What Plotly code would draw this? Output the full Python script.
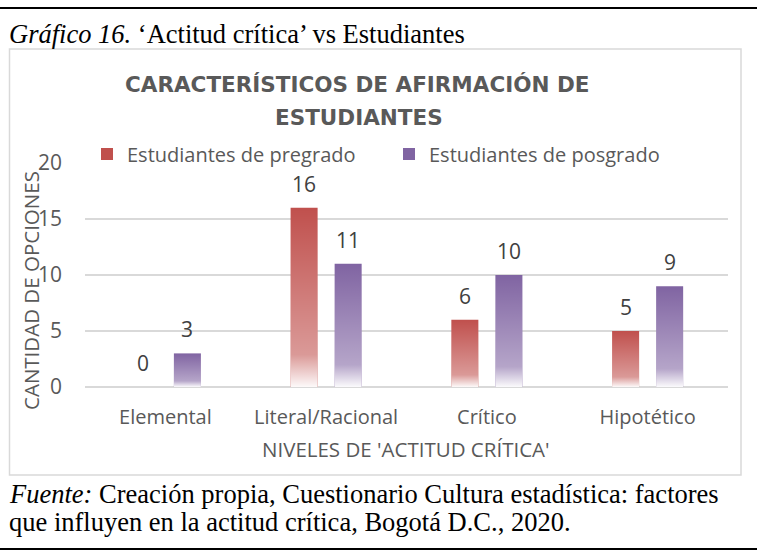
import plotly.graph_objects as go

# ---- data ----
categorias = ["Elemental", "Literal/Racional", "Crítico", "Hipotético"]
pregrado = [0, 16, 6, 5]
posgrado = [3, 11, 10, 9]
series_nombres = ["Estudiantes de pregrado", "Estudiantes de posgrado"]
y_ticks = [0, 5, 10, 15, 20]

# ---- style ----
W, H = 757, 552
L, R, T, B = 85, 728, 163, 387          # plot area in pixels
colores = ["#C0504D", "#8064A2"]
bar_w = 0.168
offsets = [-0.221, 0.053]
txt_gray = "#595959"
lab_gray = "#404040"
sans = "Open Sans"
serif = "Liberation Serif, Times New Roman, serif"


def px(xp):
    return (xp - L) / (R - L)


def py(yp):
    return (B - yp) / (B - T)


xs = list(range(len(categorias)))
fig = go.Figure()

for k, (vals, name) in enumerate(zip([pregrado, posgrado], series_nombres)):
    fig.add_trace(go.Bar(
        x=xs, y=vals, name=name, width=bar_w, offset=offsets[k],
        marker=dict(color=colores[k], line=dict(width=0)),
        hovertext=categorias, hoverinfo="text+y+name",
    ))

# white gradient overlay on each bar (fades to white at the base)
fade = [[0, "rgba(255,255,255,0.97)"], [0.18, "rgba(255,255,255,0.42)"],
        [1, "rgba(255,255,255,0)"]]
for k, vals in enumerate([pregrado, posgrado]):
    for i, v in zip(xs, vals):
        if v <= 0:
            continue
        x0 = i + offsets[k]
        x1 = x0 + bar_w
        fig.add_trace(go.Scatter(
            x=[x0, x0, x1, x1, x0], y=[0, v, v, 0, 0],
            mode="none", fill="toself",
            fillgradient=dict(type="vertical", colorscale=fade, start=0, stop=v),
            showlegend=False, hoverinfo="skip",
        ))

# data labels
for k, vals in enumerate([pregrado, posgrado]):
    for i, v in zip(xs, vals):
        fig.add_annotation(
            x=i + offsets[k] + bar_w / 2, y=v, text=str(v), showarrow=False,
            yshift=24, yanchor="middle", xanchor="center",
            font=dict(family=sans, size=21, color=lab_gray),
        )

shapes = [
    # outer black rules
    dict(type="line", xref="paper", yref="paper", x0=px(0), x1=px(W),
         y0=py(8), y1=py(8), line=dict(color="black", width=2)),
    dict(type="line", xref="paper", yref="paper", x0=px(0), x1=px(W),
         y0=py(549), y1=py(549), line=dict(color="black", width=2)),
    # chart frame
    dict(type="rect", xref="paper", yref="paper", x0=px(9.5), x1=px(741),
         y0=py(49), y1=py(475), line=dict(color="#D9D9D9", width=1.5)),
]

annotations = [
    dict(text="<i>Gráfico 16.</i> ‘Actitud crítica’ vs Estudiantes",
         x=px(7), y=py(34), xanchor="left", yanchor="middle",
         font=dict(family=serif, size=26.5, color="black")),
    dict(text="<b>CARACTERÍSTICOS DE AFIRMACIÓN DE</b>",
         x=px(357), y=py(85), xanchor="center", yanchor="middle",
         font=dict(family="DejaVu Sans", size=21.5, color=txt_gray)),
    dict(text="<b>ESTUDIANTES</b>",
         x=px(359), y=py(117), xanchor="center", yanchor="middle",
         font=dict(family="DejaVu Sans", size=21.5, color=txt_gray)),
    dict(text="CANTIDAD DE OPCIONES", textangle=-90,
         x=px(31), y=py(291), xanchor="center", yanchor="middle",
         font=dict(family=sans, size=20.5, color=txt_gray)),
    dict(text="NIVELES DE 'ACTITUD CRÍTICA'",
         x=px(406), y=py(449), xanchor="center", yanchor="middle",
         font=dict(family=sans, size=20.5, color=txt_gray)),
    dict(text="<i>Fuente:</i> Creación propia, Cuestionario Cultura estadística: factores",
         x=px(7), y=py(494), xanchor="left", yanchor="middle",
         font=dict(family=serif, size=26.5, color="black")),
    dict(text="que influyen en la actitud crítica, Bogotá D.C., 2020.",
         x=px(7), y=py(522), xanchor="left", yanchor="middle",
         font=dict(family=serif, size=26.5, color="black")),
]
for a in annotations:
    a.update(xref="paper", yref="paper", showarrow=False)
    fig.add_annotation(**a)

fig.update_layout(
    width=W, height=H,
    margin=dict(l=L, r=W - R, t=T, b=H - B),
    paper_bgcolor="white", plot_bgcolor="white",
    barmode="overlay",
    shapes=shapes,
    showlegend=True,
    legend=dict(orientation="h", x=px(87), y=py(154), xanchor="left",
                yanchor="middle", font=dict(family=sans, size=20, color=txt_gray),
                entrywidth=257, entrywidthmode="pixels", bgcolor="rgba(0,0,0,0)",
                traceorder="normal"),
    xaxis=dict(range=[-0.5, len(categorias) - 0.5], tickvals=xs, ticktext=categorias,
               showgrid=False, zeroline=False, showline=False, ticks="",
               tickfont=dict(family=sans, size=20, color=txt_gray), ticklabelstandoff=16),
    yaxis=dict(range=[0, 20], tickvals=y_ticks, showgrid=True, gridcolor="#D9D9D9",
               gridwidth=1.5, zeroline=True, zerolinecolor="#D9D9D9", zerolinewidth=1.5,
               showline=False, ticks="", ticklabelstandoff=22,
               tickfont=dict(family=sans, size=21, color=txt_gray)),
    font=dict(family=sans),
)

fig.write_html("out.html", config={"displayModeBar": False},
               post_script="document.body.style.margin='0';")
